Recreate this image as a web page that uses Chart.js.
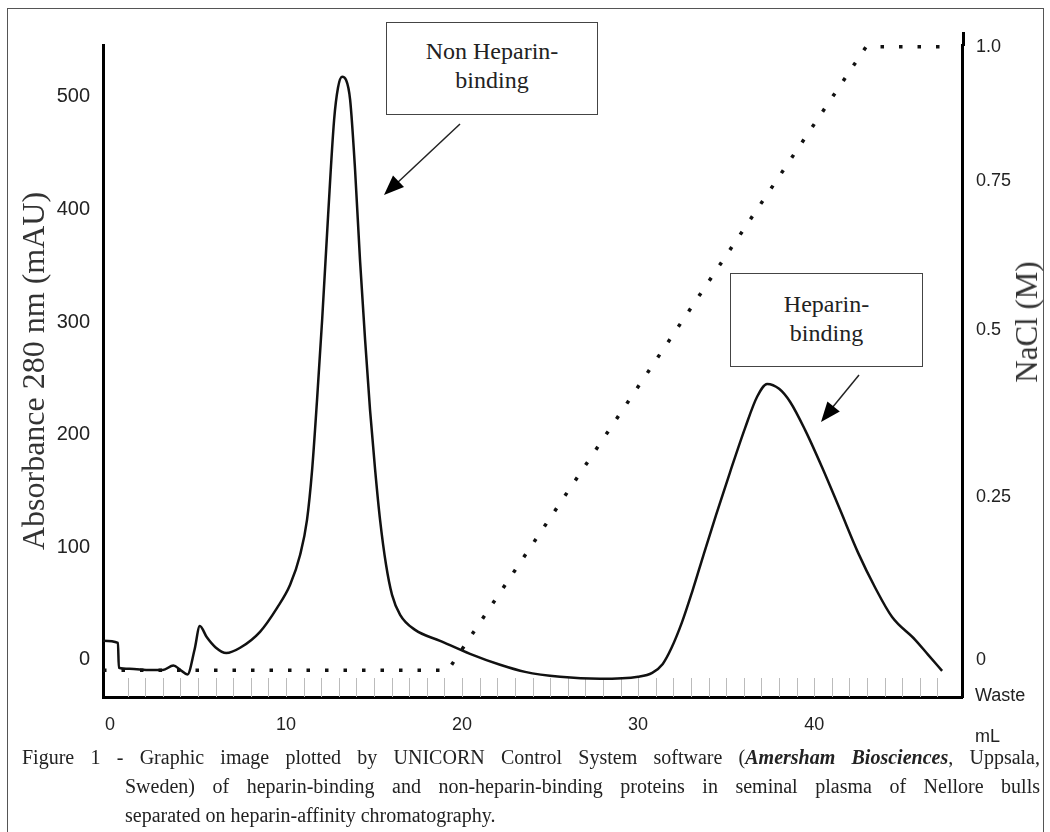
<!DOCTYPE html>
<html>
<head>
<meta charset="utf-8">
<script src="https://cdn.jsdelivr.net/npm/chart.js@4.4.0/dist/chart.umd.min.js"></script>
<style>
  html, body { margin: 0; padding: 0; background: #fff; width: 1050px; height: 832px; overflow: hidden; }
  #frame { position: absolute; left: 7px; top: 8px; width: 1035px; height: 840px; border: 1.5px solid #555; border-bottom: none; }
  #wrap { position: absolute; left: 0; top: 0; width: 1050px; height: 745px; }
  .note { position: absolute; border: 1.5px solid #444; background: #fff; font-family: 'Liberation Serif', 'Times New Roman', serif; font-size: 24px; line-height: 29px; color: #222; text-align: center; box-sizing: border-box; }
  #ytitle2 { position: absolute; left: 1027px; top: 322px; transform: translate(-50%, -50%) rotate(-90deg); font-family: 'Liberation Serif', 'Times New Roman', serif; font-size: 31px; color: #333; white-space: nowrap; }
  .unit { position: absolute; font-family: 'Liberation Sans', Arial, sans-serif; font-size: 18px; color: #222; }
  #caption { position: absolute; left: 22px; top: 743px; width: 1018px; font-family: 'Liberation Serif', 'Times New Roman', serif; font-size: 20px; line-height: 29px; color: #222; }
  #caption .j { text-align: justify; text-align-last: justify; }
  #caption .ind { padding-left: 103px; }
</style>
</head>
<body>
<div id="frame"></div>
<div id="wrap"><canvas id="chart"></canvas></div>

<div class="note" style="left:386px; top:22px; width:212px; height:93px; padding-top:14px;">Non Heparin-<br>binding</div>
<div class="note" style="left:730px; top:273px; width:193px; height:94px; padding-top:16px;">Heparin-<br>binding</div>

<svg width="1050" height="832" style="position:absolute;left:0;top:0;pointer-events:none">
  <line x1="460" y1="124" x2="396" y2="184" stroke="#222" stroke-width="1.5"/>
  <polygon points="384,195 404,187 393,175.5" fill="#000"/>
  <line x1="859" y1="375" x2="832" y2="408" stroke="#222" stroke-width="1.5"/>
  <polygon points="821,422 839.8,411.4 827.4,401.4" fill="#000"/>
</svg>

<div id="ytitle2">NaCl (M)</div>
<div class="unit" style="left:975px; top:685px;">Waste</div>
<div class="unit" style="left:975px; top:726px;">mL</div>

<div id="caption">
  <div class="j">Figure 1 - Graphic image plotted by UNICORN Control System software (<b><i>Amersham Biosciences</i></b>, Uppsala,</div>
  <div class="j ind">Sweden) of heparin-binding and non-heparin-binding proteins in seminal plasma of Nellore bulls</div>
  <div class="ind">separated on heparin-affinity chromatography.</div>
</div>

<script>
// Absorbance trace (mL, mAU)
const ABS_ML = [-0.4, 0.45, 0.5, 1.1, 2.3, 3.0, 3.6, 4.0, 4.4, 4.8, 5.1, 5.5, 6.0, 6.6, 7.39, 8.52, 9.49,
  10.23, 10.8, 11.19, 11.48, 11.76, 12.05, 12.39, 12.73, 12.95, 13.18, 13.41, 13.64, 13.92, 14.2, 14.49,
  14.77, 15.06, 15.34, 15.68, 16.02, 16.48, 17.33, 18.75, 20.45, 22.16, 23.58, 25.57, 27.84, 30.0,
  30.8, 31.4, 31.9, 32.5, 33.07, 33.7, 34.43, 35.23, 36.08, 36.76, 37.33, 38.01, 38.64, 39.49,
  40.45, 41.48, 42.5, 43.47, 44.43, 45.74, 46.48, 47.27];
const ABS_MAU = [17, 15, -7, -8, -9, -9, -5, -9, -13, 9, 30, 20, 11, 6, 10.7, 24.9, 46.2,
  66.6, 93.3, 124.3, 168.7, 230.9, 302, 395.2, 479.6, 508, 517.8, 515, 497.3, 435.2, 355.2, 284.2,
  222, 168.7, 124.3, 84.4, 57.7, 40, 26.6, 16.9, 5.3, -4.4, -10.7, -15.1, -16.9, -15,
  -11.5, -3.6, 10.7, 33.7, 60.4, 92.4, 128.8, 167, 206, 233.6, 245, 240.7, 229, 204,
  171, 133, 95, 64, 38, 17.8, 4.4, -9.8];

// NaCl gradient (mL, M)
const GRAD_ML = [-0.4, 19.2, 42.95, 47.5];
const GRAD_M = [0, 0, 1.0, 1.0];

// right axis labels as printed, and where they sit on the gradient scale
const NACL_TICK_LABELS = ['0', '0.25', '0.5', '0.75', '1.0'];
const NACL_TICK_AT = [0.016, 0.278, 0.546, 0.785, 1.0];

const minorTicks = {
  id: 'minorTicks',
  beforeDatasetsDraw(chart){
    const x = chart.scales.x, ctx = chart.ctx, area = chart.chartArea;
    ctx.save();
    ctx.strokeStyle = '#bbb';
    ctx.lineWidth = 1;
    x.ticks.forEach(t => {
      if(t.value <= 0 || !Number.isInteger(t.value) || t.value > 47) return;
      const px = Math.round(x.getPixelForValue(t.value)) + 0.5;
      ctx.beginPath();
      ctx.moveTo(px, area.bottom - 19);
      ctx.lineTo(px, area.bottom);
      ctx.stroke();
    });
    // right axis runs a little above the plot
    ctx.strokeStyle = '#000';
    ctx.lineWidth = 3;
    ctx.beginPath();
    ctx.moveTo(area.right + 1.5, area.top - 13);
    ctx.lineTo(area.right + 1.5, area.top + 1);
    ctx.stroke();
    ctx.restore();
  }
};

new Chart(document.getElementById('chart'), {
  type: 'line',
  data: {
    datasets: [
      {
        label: 'Absorbance',
        data: ABS_ML.map((v, i) => ({x: v, y: ABS_MAU[i]})),
        yAxisID: 'y',
        borderColor: '#111',
        borderWidth: 2.5,
        pointRadius: 0,
        cubicInterpolationMode: 'monotone'
      },
      {
        label: 'NaCl',
        data: GRAD_ML.map((v, i) => ({x: v, y: GRAD_M[i]})),
        yAxisID: 'y2',
        borderColor: '#111',
        borderWidth: 3.5,
        borderDash: [3.5, 15],
        pointRadius: 0,
        tension: 0
      }
    ]
  },
  options: {
    responsive: true,
    maintainAspectRatio: false,
    animation: false,
    layout: { padding: { top: 45, left: 0, right: 0, bottom: 0 } },
    plugins: { legend: { display: false }, tooltip: { enabled: false } },
    scales: {
      x: {
        type: 'linear',
        min: -0.4,
        max: 48.4,
        grid: { display: false },
        border: { display: true, color: '#000', width: 3 },
        ticks: {
          stepSize: 1,
          autoSkip: false,
          includeBounds: false,
          maxRotation: 0,
          padding: 9,
          color: '#222',
          font: { family: "'Liberation Sans', Arial, sans-serif", size: 18 },
          callback: v => (v % 10 === 0 ? v : '')
        },
        afterFit(s){ s.height = 48; }
      },
      y: {
        position: 'left',
        min: -33,
        max: 546,
        grid: { display: false },
        border: { display: true, color: '#000', width: 3 },
        ticks: {
          stepSize: 100,
          includeBounds: false,
          padding: 5,
          color: '#222',
          font: { family: "'Liberation Sans', Arial, sans-serif", size: 20 }
        },
        title: {
          display: true,
          text: 'Absorbance 280 nm (mAU)',
          color: '#333',
          padding: { top: 16 },
          font: { family: "'Liberation Serif', 'Times New Roman', serif", size: 32, weight: 'normal' }
        },
        afterFit(s){ s.width = 103; }
      },
      y2: {
        position: 'right',
        min: -0.043,
        max: 1.003,
        grid: { display: false },
        border: { display: true, color: '#000', width: 3 },
        afterBuildTicks(s){ s.ticks = NACL_TICK_AT.map(v => ({value: v})); },
        ticks: {
          padding: 6,
          color: '#222',
          font: { family: "'Liberation Sans', Arial, sans-serif", size: 18 },
          callback: (v, i) => NACL_TICK_LABELS[i]
        },
        afterFit(s){ s.width = 88; }
      }
    }
  },
  plugins: [minorTicks]
});
</script>
</body>
</html>
